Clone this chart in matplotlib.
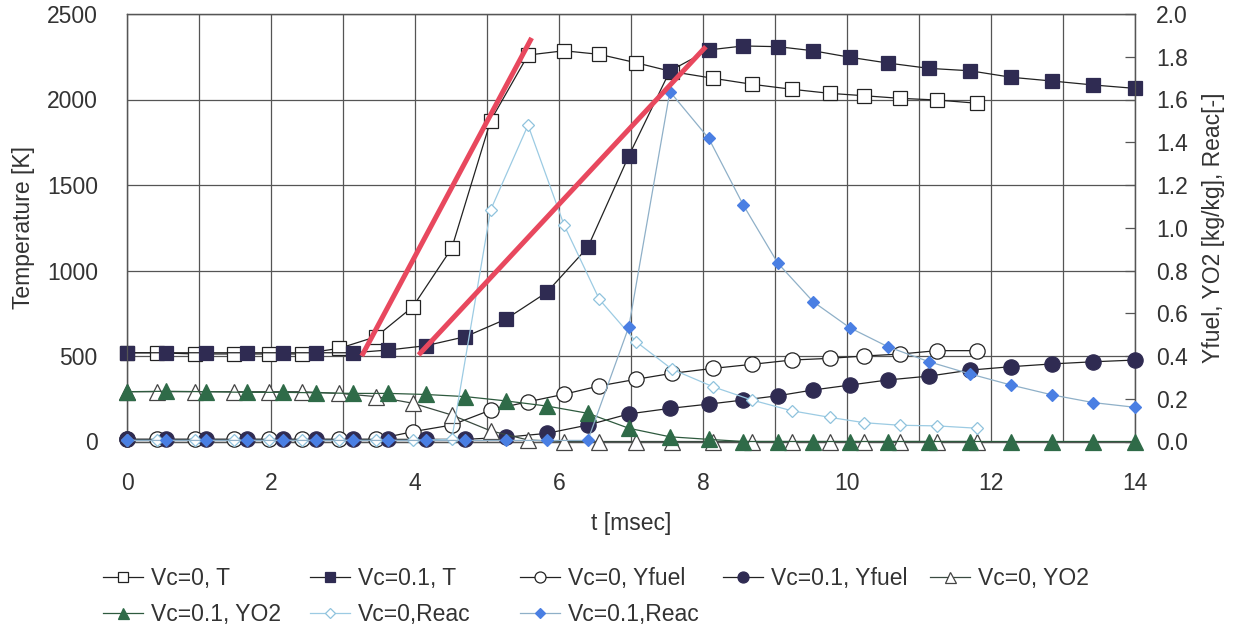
import matplotlib
matplotlib.use("Agg")
import matplotlib.pyplot as plt
from matplotlib.ticker import MultipleLocator, FormatStrFormatter
from matplotlib.lines import Line2D

plt.rcParams['font.family'] = ['Liberation Sans', 'DejaVu Sans']

# ---- data -------------------------------------------------------------
# time points [msec]
t_vc0 = [0, 0.41, 0.94, 1.48, 1.97, 2.43, 2.95, 3.46, 3.97, 4.51, 5.05, 5.57,
         6.07, 6.56, 7.07, 7.57, 8.14, 8.68, 9.23, 9.76, 10.24, 10.73, 11.25, 11.81]
t_vc01 = [0, 0.54, 1.10, 1.66, 2.16, 2.63, 3.14, 3.63, 4.15, 4.70, 5.26, 5.83,
          6.40, 6.97, 7.54, 8.08, 8.56, 9.04, 9.53, 10.04, 10.57, 11.14, 11.71,
          12.28, 12.85, 13.42, 14.0]

# Vc = 0
T_vc0 = [519, 519, 512, 512, 512, 512, 545, 613, 788, 1130, 1876, 2260,
         2285, 2264, 2215, 2163, 2124, 2089, 2060, 2036, 2022, 2007, 1997, 1978]
yfuel_vc0 = [0.01, 0.01, 0.01, 0.01, 0.01, 0.01, 0.01, 0.01, 0.046, 0.077, 0.147, 0.186,
             0.221, 0.26, 0.291, 0.319, 0.342, 0.361, 0.381, 0.389, 0.40, 0.409, 0.425, 0.425]
yo2_vc0 = [0.233, 0.233, 0.233, 0.233, 0.233, 0.233, 0.225, 0.21, 0.179, 0.124, 0.05, 0.007,
           0.0, 0.0, 0.0, 0.0, 0.0, 0.0, 0.0, 0.0, 0.0, 0.0, 0.0, 0.0]
reac_vc0 = [0.005, 0.005, 0.005, 0.005, 0.005, 0.005, 0.005, 0.005, 0.005, 0.01, 1.083, 1.48,
            1.013, 0.665, 0.467, 0.338, 0.256, 0.194, 0.144, 0.113, 0.088, 0.076, 0.073, 0.062]

# Vc = 0.1
T_vc01 = [519, 519, 519, 519, 519, 519, 519, 535, 560, 613, 715, 872,
          1136, 1671, 2167, 2290, 2313, 2309, 2285, 2247, 2213, 2182, 2168,
          2130, 2108, 2085, 2065]
yfuel_vc01 = [0.01, 0.01, 0.01, 0.01, 0.01, 0.01, 0.01, 0.01, 0.01, 0.01, 0.02, 0.038,
              0.077, 0.129, 0.155, 0.175, 0.194, 0.214, 0.241, 0.264, 0.288, 0.306, 0.334,
              0.35, 0.363, 0.373, 0.381]
yo2_vc01 = [0.233, 0.235, 0.233, 0.23, 0.23, 0.228, 0.225, 0.225, 0.22, 0.21, 0.19, 0.166,
            0.132, 0.062, 0.022, 0.01, 0.0, 0.0, 0.0, 0.0, 0.0, 0.0, 0.0,
            0.0, 0.0, 0.0, 0.0]
reac_vc01 = [0.005, 0.005, 0.005, 0.005, 0.005, 0.005, 0.005, 0.005, 0.005, 0.005, 0.005, 0.005,
             0.005, 0.537, 1.637, 1.418, 1.106, 0.834, 0.654, 0.532, 0.443, 0.373, 0.316,
             0.264, 0.218, 0.182, 0.16]

# temperature-rise guide lines (t [msec], T [K])
rise_vc0_t = [3.26, 5.62]
rise_vc0_T = [500, 2360]
rise_vc01_t = [4.05, 8.04]
rise_vc01_T = [506, 2309]

# ---- styles -----------------------------------------------------------
NAVY = '#2f2b52'
GREEN = '#2f6b48'
BLUE = '#4a7fe3'
LBLUE = '#9ccbe3'
GRID = '#555555'
TXT = '#333333'
RED = '#e8485e'
FS = 16.5

fig = plt.figure(figsize=(12.41, 6.34), dpi=100)
ax = fig.add_axes([127 / 1241, 1 - 441.5 / 634, (1135 - 127) / 1241, (441.5 - 14) / 634])
ax2 = ax.twinx()

ms_big = 10.5
common = dict(clip_on=False)

# primary axis: temperature
ax.plot(t_vc0, T_vc0, '-', color='#222222', lw=0.9, marker='s', ms=ms_big,
        mfc='white', mec='#222222', mew=0.9, label='Vc=0, T', zorder=3, **common)
ax.plot(t_vc01, T_vc01, '-', color='#222222', lw=0.9, marker='s', ms=ms_big,
        mfc=NAVY, mec=NAVY, mew=0.9, label='Vc=0.1, T', zorder=4, **common)

# secondary axis: mass fractions and reaction
ax2.plot(t_vc0, yfuel_vc0, '-', color='#222222', lw=0.9, marker='o', ms=ms_big + 0.5,
         mfc='white', mec='#222222', mew=0.9, label='Vc=0, Yfuel', zorder=3, **common)
ax2.plot(t_vc01, yfuel_vc01, '-', color='#222222', lw=0.9, marker='o', ms=ms_big + 0.5,
         mfc=NAVY, mec=NAVY, mew=0.9, label='Vc=0.1, Yfuel', zorder=4, **common)
ax2.plot(t_vc0, yo2_vc0, '-', color='#3a4a40', lw=0.9, marker='^', ms=ms_big + 0.5,
         mfc='white', mec='#444444', mew=0.9, label='Vc=0, YO2', zorder=5, **common)
ax2.plot(t_vc01, yo2_vc01, '-', color='#2e5a3e', lw=0.9, marker='^', ms=ms_big + 0.5,
         mfc=GREEN, mec=GREEN, mew=0.9, label='Vc=0.1, YO2', zorder=6, **common)
ax2.plot(t_vc0, reac_vc0, '-', color=LBLUE, lw=0.9, marker='D', ms=6.5,
         mfc='white', mec='#8fc3dd', mew=0.9, label='Vc=0,Reac', zorder=7, **common)
ax2.plot(t_vc01, reac_vc01, '-', color='#8fb0c8', lw=0.9, marker='D', ms=6.5,
         mfc=BLUE, mec=BLUE, mew=0.9, label='Vc=0.1,Reac', zorder=8, **common)

# guide lines drawn on top of everything
ax2.plot(rise_vc0_t, [v / 1250 for v in rise_vc0_T], color=RED, lw=3.6,
         solid_capstyle='butt', zorder=20, clip_on=False)
ax2.plot(rise_vc01_t, [v / 1250 for v in rise_vc01_T], color=RED, lw=3.6,
         solid_capstyle='butt', zorder=20, clip_on=False)

# ---- axes -------------------------------------------------------------
ax.set_xlim(0, 14)
ax.set_ylim(0, 2500)
ax2.set_ylim(0, 2.0)

ax.xaxis.set_major_locator(MultipleLocator(2))
ax.xaxis.set_minor_locator(MultipleLocator(1))
ax.yaxis.set_major_locator(MultipleLocator(500))
ax2.yaxis.set_major_locator(MultipleLocator(0.2))
ax2.yaxis.set_major_formatter(FormatStrFormatter('%.1f'))

ax.grid(True, which='both', axis='x', color=GRID, lw=0.9)
ax.grid(True, which='major', axis='y', color=GRID, lw=0.9)
ax.set_axisbelow(True)

ax.tick_params(axis='x', which='both', length=0, pad=22, labelsize=FS, labelcolor=TXT)
ax.tick_params(axis='y', length=0, pad=21, labelsize=FS, labelcolor=TXT)
ax2.tick_params(axis='y', direction='in', length=7, width=0.9, color=GRID,
                pad=15, labelsize=FS, labelcolor=TXT)

for a in (ax, ax2):
    for s in a.spines.values():
        s.set_color(GRID)
        s.set_linewidth(0.9)

ax.set_xlabel('t [msec]', fontsize=FS, color=TXT, labelpad=12)
ax.set_ylabel('Temperature [K]', fontsize=FS, color=TXT)
ax2.set_ylabel('Yfuel, YO2 [kg/kg], Reac[-]', fontsize=FS, color=TXT)
ax.yaxis.set_label_coords(-92 / 1008, 0.5)
ax2.yaxis.set_label_coords(1 + 67 / 1008, 0.5)

# ---- legend: five equal-width columns --------------------------------
h1, l1 = ax.get_legend_handles_labels()
h2, l2 = ax2.get_legend_handles_labels()
handles = dict(zip(l1 + l2, h1 + h2))


def legend_proxy(h):
    return Line2D([], [], color=h.get_color(), lw=0.9, marker=h.get_marker(),
                  ms=h.get_markersize() * 0.72, mfc=h.get_markerfacecolor(),
                  mec=h.get_markeredgecolor(), mew=0.9)


columns = [
    ['Vc=0, T', 'Vc=0.1, YO2'],
    ['Vc=0.1, T', 'Vc=0,Reac'],
    ['Vc=0, Yfuel', 'Vc=0.1,Reac'],
    ['Vc=0.1, Yfuel'],
    ['Vc=0, YO2'],
]
col_x = [103, 310, 520, 723, 930]
for x, labels in zip(col_x, columns):
    fig.legend([legend_proxy(handles[l]) for l in labels], labels,
               loc='upper left', bbox_to_anchor=(x / 1241, 1 - 567 / 634),
               frameon=False, fontsize=FS, handlelength=1.75, handletextpad=0.35,
               labelspacing=0.55, borderaxespad=0, borderpad=0, labelcolor=TXT)

fig.savefig('out.png', dpi=100, facecolor='white')
